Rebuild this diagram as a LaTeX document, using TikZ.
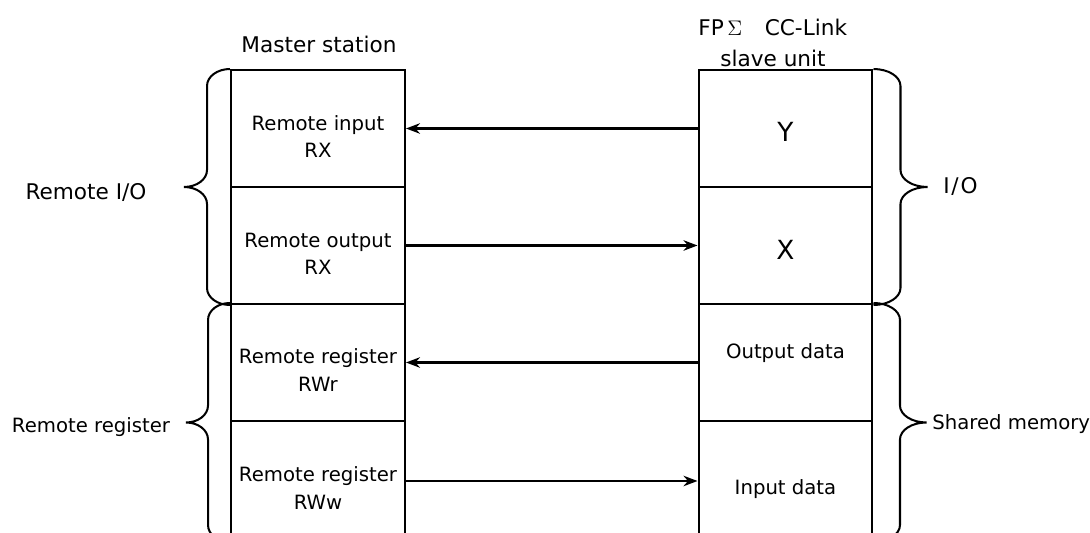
\documentclass[tikz,border=0pt]{standalone}
\usepackage{fontspec}
\setmainfont{DejaVu Sans}
\usetikzlibrary{arrows.meta, positioning, calc}

\tikzset{
  cell/.style={draw, line width=1.15pt, minimum width=3.48cm, minimum height=2.34cm, inner sep=0pt},
  lastcell/.style={minimum height=2.4cm},
  ctext/.style={align=center, inner sep=0pt, font=\fontsize{11.2}{15.5}\selectfont},
  bigtext/.style={inner sep=0pt, font=\fontsize{15}{18}\selectfont},
  link/.style={line width=1.15pt, -{Stealth[length=8pt,width=6pt]}},
  lbl/.style={inner sep=0pt, font=\fontsize{11.2}{15}\selectfont},
  title/.style={inner sep=0pt, font=\fontsize{12.3}{15}\selectfont},
  % curly brace drawn from top to bottom, #1 = offset of its straight part
  vbrace/.style={line width=1.15pt, to path={
    let \p1=(\tikztostart), \p2=(\tikztotarget), \n1={(\y1+\y2)/2} in
    (\p1) .. controls ({\x1+0.55*(#1)},\y1) and ({\x1+#1},{\y1-0.15cm}) .. ({\x1+#1},{\y1-0.34cm})
    -- ({\x1+#1},{\n1+0.34cm})
    .. controls ({\x1+#1},{\n1+0.15cm}) and ({\x1+1.45*(#1)},\n1) .. ({\x1+2*(#1)},\n1)
    .. controls ({\x1+1.45*(#1)},\n1) and ({\x1+#1},{\n1-0.15cm}) .. ({\x1+#1},{\n1-0.34cm})
    -- ({\x1+#1},{\y2+0.34cm})
    .. controls ({\x1+#1},{\y2+0.15cm}) and ({\x1+0.55*(#1)},\y2) .. (\x1,\y2)}}
}

\begin{document}
\begin{tikzpicture}[x=0.02cm, y=-0.02cm]
\useasboundingbox (0,0) rectangle (1090,533);
\clip (0,0) rectangle (1090,533);

% Master station
\node[cell] (m1) at (318,128.5) {};
\node[cell] (m2) at (318,245.5) {};
\node[cell] (m3) at (318,362.5) {};
\node[cell, lastcell] (m4) at (318,481) {};
\node[ctext] (m1t) at ([yshift=-0.16cm]m1.center) {Remote input\\RX};
\node[ctext] (m2t) at ([yshift=-0.16cm]m2.center) {Remote output\\RX};
\node[ctext] (m3t) at ([yshift=-0.15cm]m3.center) {Remote register\\RWr};
\node[ctext] (m4t) at ([yshift=-0.14cm]m4.center) {Remote register\\RWw};

% Slave unit
\node[cell] (s1) at (785.5,128.5) {};
\node[cell] (s2) at (785.5,245.5) {};
\node[cell] (s3) at (785.5,362.5) {};
\node[cell, lastcell] (s4) at (785.5,481) {};
\node[bigtext] (s1t) at ([yshift=-0.06cm]s1.center) {Y};
\node[bigtext] (s2t) at ([yshift=-0.08cm]s2.center) {X};
\node[ctext] (s3t) at ([yshift=0.18cm]s3.center) {Output data};
\node[ctext] (s4t) at ([yshift=-0.16cm]s4.center) {Input data};

% Titles
\node[title] (mtitle) at (319,44) {Master station};
\node[title, anchor=west] (stitle) at (698,27) {FP\,$\Sigma$\hspace{0.45cm}CC-Link};
\node[title] (ssub) at (773,58) {slave unit};

% Links
\draw[link] (s1.west) -- (m1.east);
\draw[link] (m2.east) -- (s2.west);
\draw[link] (s3.west) -- (m3.east);
\draw[link] (m4.east) -- (s4.west);

% Braces
\draw[vbrace=-0.46cm] (m1.north west) to (m2.south west);
\draw[vbrace=-0.44cm] (m3.north west) to (m4.south west);
\draw[vbrace=0.54cm] (s1.north east) to (s2.south east);
\draw[vbrace=0.53cm] (s3.north east) to (s4.south east);

% Brace labels
\node[title] (rio) at (86,192) {Remote I/O};
\node[lbl] (rreg) at (91,427) {Remote register};
\node[title, anchor=west] (io) at (943,186) {I\kern1pt/\kern1pt O};
\node[lbl, anchor=west] (shm) at (932,424) {Shared memory};
\end{tikzpicture}
\end{document}
